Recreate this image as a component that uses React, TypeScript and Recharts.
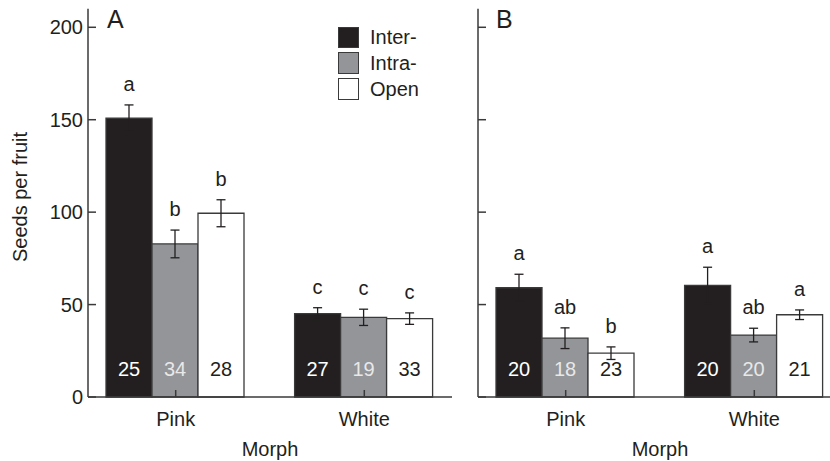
import { BarChart, Bar, XAxis, YAxis, ErrorBar, LabelList, Legend } from "recharts";

const INK = "#231f20";
const EDGE = "#3a3a3a";
const GRAY = "#939598";
const FONT = "'Liberation Sans', Arial, Helvetica, sans-serif";

const categories = ["Pink", "White"];
const seriesNames = ["Inter-", "Intra-", "Open"];
const yTicks = [0, 50, 100, 150, 200];

// Panel A
const aInter = [150.8, 45.1];
const aInterSe = [7.2, 3.2];
const aIntra = [82.8, 43.1];
const aIntraSe = [7.5, 4.4];
const aOpen = [99.4, 42.4];
const aOpenSe = [7.3, 3.1];
const aInterN = [25, 27];
const aIntraN = [34, 19];
const aOpenN = [28, 33];
const aInterSig = ["a", "c"];
const aIntraSig = ["b", "c"];
const aOpenSig = ["b", "c"];

// Panel B
const bInter = [59.1, 60.4];
const bInterSe = [7.3, 9.8];
const bIntra = [31.8, 33.5];
const bIntraSe = [5.6, 3.7];
const bOpen = [23.7, 44.5];
const bOpenSe = [3.4, 2.6];
const bInterN = [20, 20];
const bIntraN = [18, 20];
const bOpenN = [23, 21];
const bInterSig = ["a", "a"];
const bIntraSig = ["ab", "ab"];
const bOpenSig = ["b", "a"];

type Series = { values: number[]; se: number[]; n: number[]; sig: string[] };

const buildRows = (inter: Series, intra: Series, open: Series) =>
  categories.map((morph, i) => ({
    morph,
    inter: inter.values[i],
    interSe: inter.se[i],
    interN: inter.n[i],
    interSig: inter.sig[i],
    intra: intra.values[i],
    intraSe: intra.se[i],
    intraN: intra.n[i],
    intraSig: intra.sig[i],
    open: open.values[i],
    openSe: open.se[i],
    openN: open.n[i],
    openSig: open.sig[i],
  }));

// letter placed a fixed gap above the error bar cap
const sigLabel = (s: Series) => (props: any) => {
  const x = Number(props.x);
  const y = Number(props.y);
  const w = Number(props.width);
  const h = Number(props.height);
  const i = props.index;
  const px = h / s.values[i];
  const top = y - s.se[i] * px;
  return (
    <text x={x + w / 2} y={top - 14} textAnchor="middle" fontSize={20} fill={INK}>
      {props.value}
    </text>
  );
};

const countLabel = (color: string) => (props: any) => {
  const x = Number(props.x);
  const y = Number(props.y);
  const w = Number(props.width);
  const h = Number(props.height);
  return (
    <text x={x + w / 2} y={y + h - 21} textAnchor="middle" fontSize={20} fill={color}>
      {props.value}
    </text>
  );
};

function Panel({
  inter,
  intra,
  open,
  showYLabels,
  showLegend,
}: {
  inter: Series;
  intra: Series;
  open: Series;
  showYLabels: boolean;
  showLegend: boolean;
}) {
  const rows = buildRows(inter, intra, open);
  return (
    <BarChart
      width={460}
      height={461}
      data={rows}
      margin={{ top: 8.8, right: 8, bottom: 0, left: 0 }}
      barCategoryGap={24.6}
      barGap={0}
    >
      <XAxis
        dataKey="morph"
        height={64}
        padding={{ left: -6.6, right: -6.6 }}
        axisLine={{ stroke: EDGE, strokeWidth: 1.5 }}
        tickLine={{ stroke: EDGE, strokeWidth: 1.5 }}
        tickSize={-7}
        tickMargin={22}
        tick={{ fill: INK, fontSize: 20 }}
        label={{
          content: (p: any) => (
            <text
              x={p.viewBox.x + p.viewBox.width / 2}
              y={456}
              textAnchor="middle"
              fontSize={20}
              fill={INK}
            >
              Morph
            </text>
          ),
        }}
      />
      <YAxis
        width={88}
        domain={[0, 210]}
        ticks={yTicks}
        interval={0}
        axisLine={{ stroke: EDGE, strokeWidth: 1.5 }}
        tickLine={{ stroke: EDGE, strokeWidth: 1.5 }}
        tickSize={-8}
        tickMargin={13}
        tick={{ fill: INK, fontSize: 20 }}
        tickFormatter={(v: number) => (showYLabels ? String(v) : "")}
        label={
          showYLabels
            ? {
                content: () => (
                  <text
                    x={27}
                    y={197}
                    transform="rotate(-90 27 197)"
                    textAnchor="middle"
                    fontSize={20}
                    fill={INK}
                  >
                    Seeds per fruit
                  </text>
                ),
              }
            : undefined
        }
      />
      {showLegend && (
        <Legend
          layout="vertical"
          align="center"
          verticalAlign="middle"
          wrapperStyle={{ left: 338, top: 24.6, width: 120, height: 80 }}
          content={({ payload }: any) => (
            <div>
              {(payload || []).map((p: any) => (
                <div key={p.value} style={{ display: "flex", alignItems: "center", height: 25.8 }}>
                  <span
                    style={{
                      width: 21,
                      height: 21.6,
                      background: p.color,
                      border: `1.5px solid ${EDGE}`,
                      boxSizing: "border-box",
                      display: "inline-block",
                    }}
                  />
                  <span style={{ marginLeft: 11, fontSize: 20, color: INK, lineHeight: "20px" }}>
                    {p.value}
                  </span>
                </div>
              ))}
            </div>
          )}
        />
      )}
      <Bar dataKey="inter" name={seriesNames[0]} fill={INK} stroke={EDGE} strokeWidth={1.3} isAnimationActive={false}>
        <ErrorBar dataKey="interSe" width={4.5} stroke={INK} strokeWidth={1.3} direction="y" isAnimationActive={false} />
        <LabelList dataKey="interSig" content={sigLabel(inter)} />
        <LabelList dataKey="interN" content={countLabel("#ffffff")} />
      </Bar>
      <Bar dataKey="intra" name={seriesNames[1]} fill={GRAY} stroke={EDGE} strokeWidth={1.3} isAnimationActive={false}>
        <ErrorBar dataKey="intraSe" width={4.5} stroke={INK} strokeWidth={1.3} direction="y" isAnimationActive={false} />
        <LabelList dataKey="intraSig" content={sigLabel(intra)} />
        <LabelList dataKey="intraN" content={countLabel("#e8e8e8")} />
      </Bar>
      <Bar dataKey="open" name={seriesNames[2]} fill="#ffffff" stroke={EDGE} strokeWidth={1.3} isAnimationActive={false}>
        <ErrorBar dataKey="openSe" width={4.5} stroke={INK} strokeWidth={1.3} direction="y" isAnimationActive={false} />
        <LabelList dataKey="openSig" content={sigLabel(open)} />
        <LabelList dataKey="openN" content={countLabel(INK)} />
      </Bar>
    </BarChart>
  );
}

const panelLetter = (left: number): React.CSSProperties => ({
  position: "absolute",
  left,
  top: 6.8,
  fontSize: 25,
  lineHeight: "25px",
  color: INK,
});

export default function App() {
  return (
    <div
      style={{
        position: "absolute",
        left: 0,
        top: 0,
        width: 830,
        height: 461,
        overflow: "hidden",
        background: "#ffffff",
        fontFamily: FONT,
      }}
    >
      <div style={{ position: "absolute", left: 0, top: 0 }}>
        <Panel
          inter={{ values: aInter, se: aInterSe, n: aInterN, sig: aInterSig }}
          intra={{ values: aIntra, se: aIntraSe, n: aIntraN, sig: aIntraSig }}
          open={{ values: aOpen, se: aOpenSe, n: aOpenN, sig: aOpenSig }}
          showYLabels={true}
          showLegend={true}
        />
      </div>
      <div style={{ position: "absolute", left: 390, top: 0 }}>
        <Panel
          inter={{ values: bInter, se: bInterSe, n: bInterN, sig: bInterSig }}
          intra={{ values: bIntra, se: bIntraSe, n: bIntraN, sig: bIntraSig }}
          open={{ values: bOpen, se: bOpenSe, n: bOpenN, sig: bOpenSig }}
          showYLabels={false}
          showLegend={false}
        />
      </div>
      <div style={panelLetter(107)}>A</div>
      <div style={panelLetter(496)}>B</div>
    </div>
  );
}
